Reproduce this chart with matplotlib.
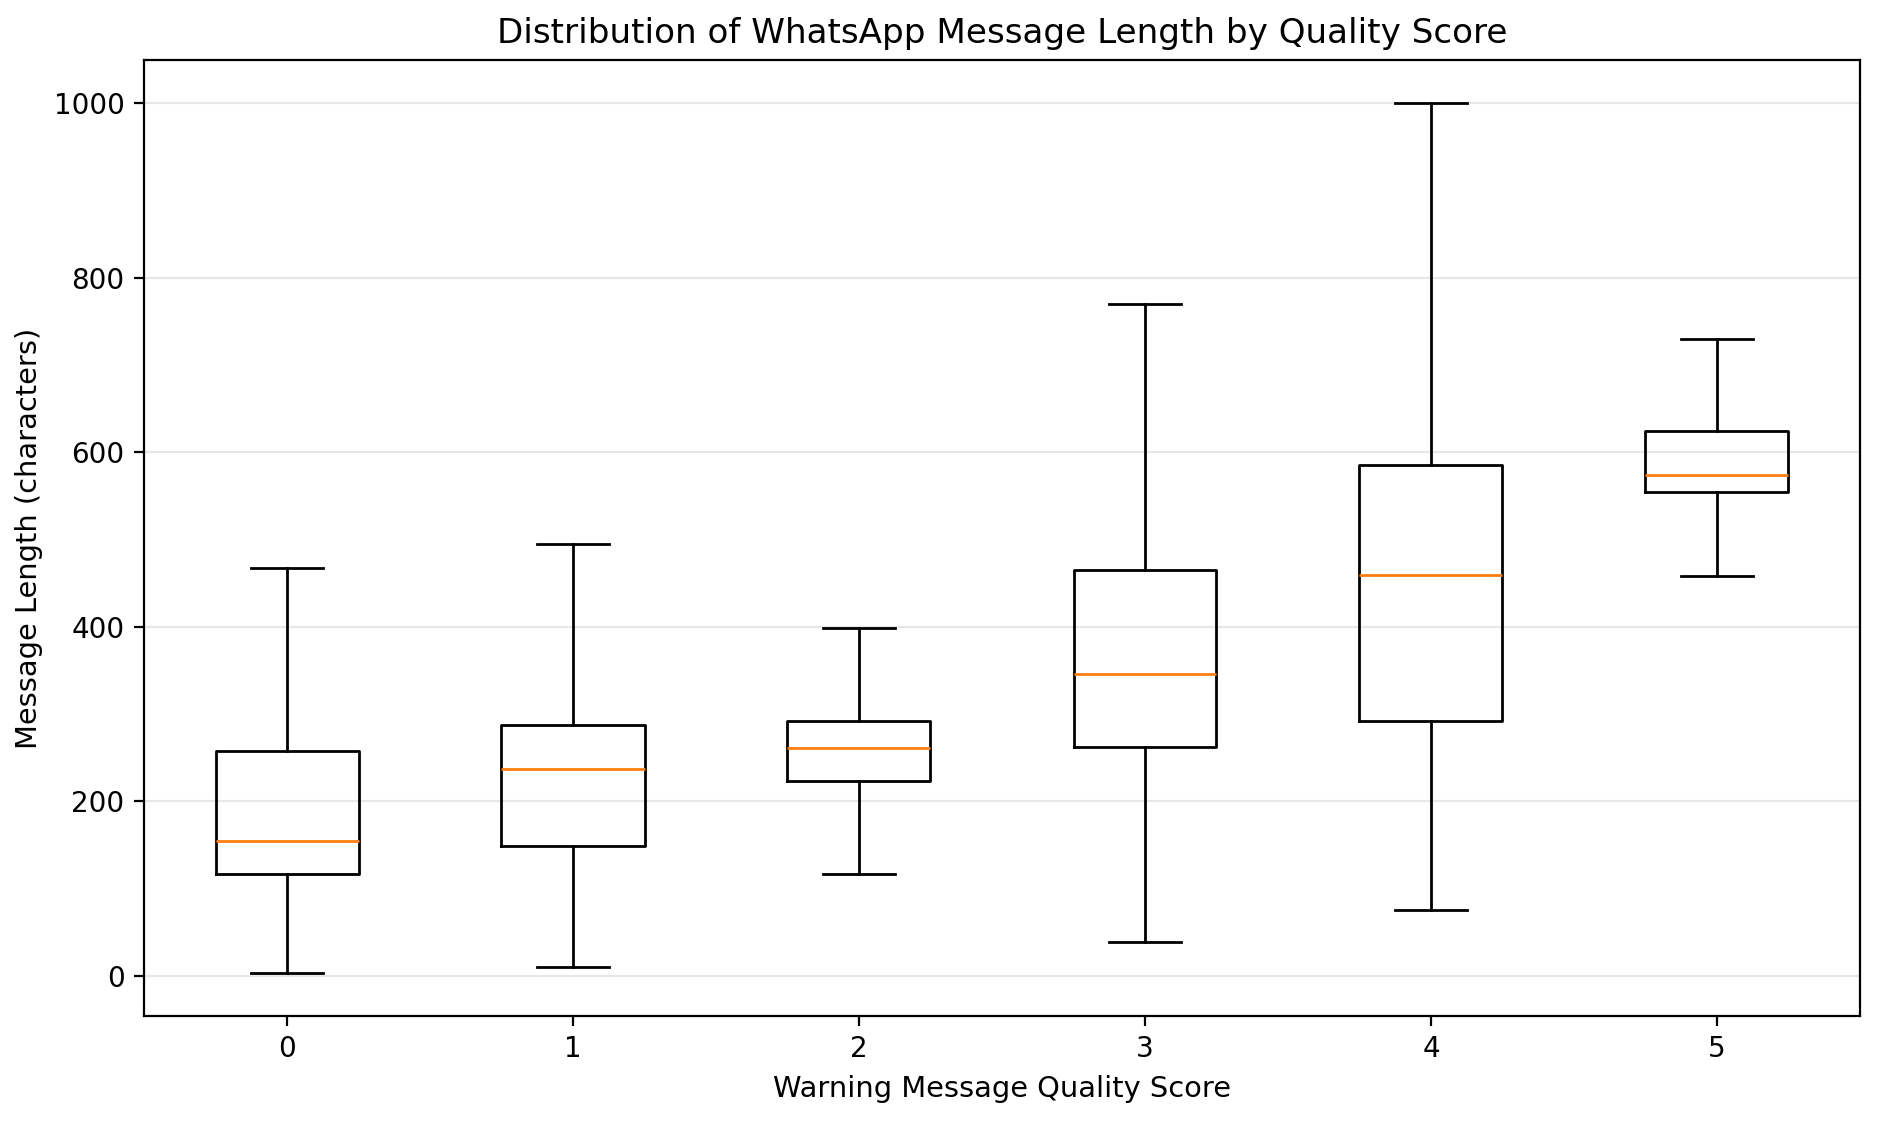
import matplotlib
matplotlib.use("Agg")
import matplotlib.pyplot as plt

scores = [0, 1, 2, 3, 4, 5]
whisker_low = [3.8, 10.3, 116.4, 38.9, 76.0, 458.7]
q1 = [117.2, 148.8, 222.9, 261.8, 291.9, 554.9]
median = [154.6, 237.4, 261.0, 346.3, 459.3, 573.6]
q3 = [257.6, 287.0, 292.7, 465.3, 585.8, 624.7]
whisker_high = [467.5, 494.6, 398.5, 770.2, 1000.0, 729.7]

stats = []
for s, wl, a, m, b, wh in zip(scores, whisker_low, q1, median, q3, whisker_high):
    stats.append(dict(label=str(s), whislo=wl, q1=a, med=m, q3=b, whishi=wh, fliers=[]))

DPI = 200
fig = plt.figure(figsize=(1883 / DPI, 1125 / DPI), dpi=DPI)
ax = fig.add_axes([144 / 1883, 1 - 1016 / 1125, (1860 - 144) / 1883, (1016 - 60) / 1125])
ax.bxp(stats, positions=scores, widths=0.5, showfliers=False)
ax.set_axisbelow(True)
ax.yaxis.grid(True, alpha=0.3)
ax.set_title("Distribution of WhatsApp Message Length by Quality Score", fontsize=12.3)
ax.set_xlabel("Warning Message Quality Score", fontsize=10.4)
ax.set_ylabel("Message Length (characters)", fontsize=10.4)
fig.savefig("out.png", dpi=DPI)
